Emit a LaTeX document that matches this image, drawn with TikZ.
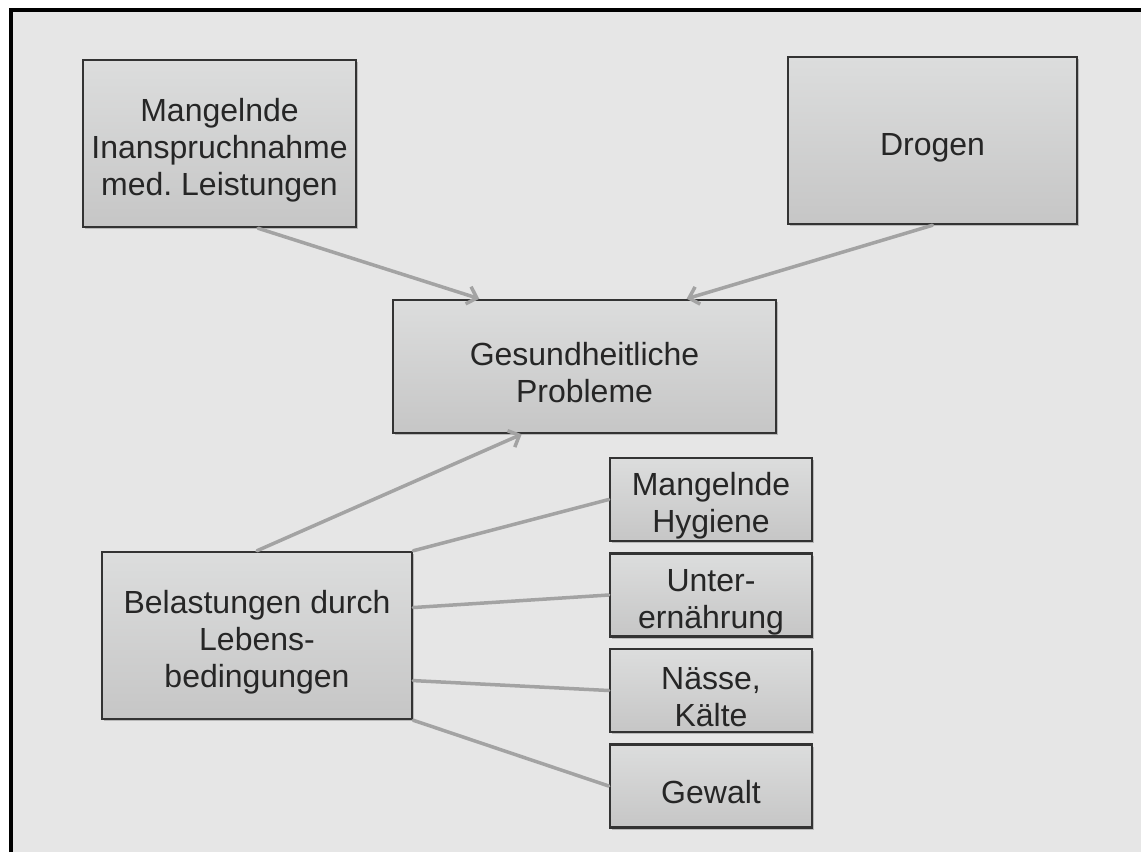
\documentclass[tikz,border=0pt]{standalone}
\usepackage{fontspec}
\setmainfont{Liberation Sans}
\frenchspacing
\usetikzlibrary{calc,shadows,arrows.meta}
\definecolor{boxtop}{HTML}{DCDDDD}
\definecolor{boxbot}{HTML}{C6C6C6}
\definecolor{linkgray}{HTML}{A3A3A3}
\definecolor{bggray}{HTML}{E6E6E6}
\newcommand{\ts}{\rule{0pt}{36pt}}
\tikzset{
  box/.style={draw=black!80, line width=2.5pt, top color=boxtop, bottom color=boxbot,
    align=center, text=black!85, inner xsep=4pt, inner ysep=0pt,
    drop shadow={shadow xshift=2pt, shadow yshift=-2pt, opacity=0.2, fill=black}},
  link/.style={draw=linkgray, line width=3.5pt, line cap=round},
}
\begin{document}
\begin{tikzpicture}[x=1pt, y=-1pt, font=\fontsize{32}{37}\selectfont, >={Straight Barb[length=9pt,width=18pt,line width=3.5pt]}]
    \useasboundingbox (0,0) rectangle (1141,852);
    % frame
    \fill[bggray] (11,10) rectangle (1141,852);
    \draw[black, line width=4pt] (11,852) -- (11,10) -- (1141,10);
    % boxes
    \node[box, minimum width=273, minimum height=167] (A) at (219.5,143.5) {\ts Mangelnde\\Inanspruchnahme\\med. Leistungen};
    \node[box, minimum width=289, minimum height=167] (D) at (932.5,140.5) {\ts Drogen};
    \node[box, minimum width=383, minimum height=133] (G) at (584.5,366.5) {\ts Gesundheitliche\\Probleme};
    \node[box, minimum width=310, minimum height=167] (L) at (257,635.5) {\ts Belastungen durch\\Lebens-\\bedingungen};
    \foreach \t/\y [count=\k] in {{Mangelnde\\Hygiene}/499.5, {Unter-\\ern\"ahrung}/595, {N\"asse,\\K\"alte}/690.5, {Gewalt}/786}
      \node[box, minimum width=202, minimum height=83] (s\k) at (711,\y) {\ts\t};
    % arrows
    \draw[link, ->] ($(A.south west)!0.64!(A.south east)$) -- ($(G.north west)!0.227!(G.north east)$);
    \draw[link, ->] (D.south) -- ($(G.north west)!0.765!(G.north east)$);
    \draw[link, ->] (L.north) -- ($(G.south west)!0.337!(G.south east)$);
    \foreach \k/\f in {1/0, 2/0.335, 3/0.766, 4/1}
      \draw[link] ($(L.north east)!\f!(L.south east)$) -- (s\k.west);
\end{tikzpicture}
\end{document}
